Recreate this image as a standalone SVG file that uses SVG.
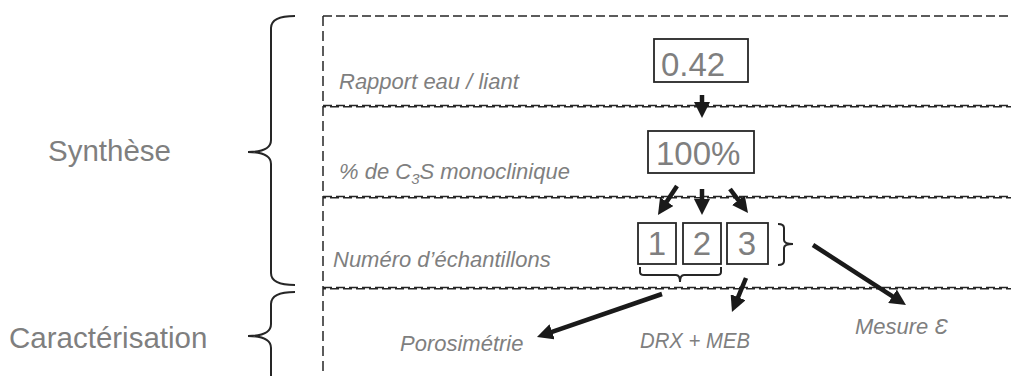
<svg xmlns="http://www.w3.org/2000/svg" width="1011" height="376" viewBox="0 0 1011 376">
<style>
.dash{fill:none;stroke:#262626;stroke-width:1.5;stroke-dasharray:9 4}
.vdash{fill:none;stroke:#262626;stroke-width:1.5;stroke-dasharray:10 5}
.brace{fill:none;stroke:#262626;stroke-width:2}
.box{fill:#fff;stroke:#262626;stroke-width:1.8}
.big{font-family:"Liberation Sans",Arial,sans-serif;font-size:29.5px;fill:#7f7f7f}
.lab{font-family:"Liberation Sans",Arial,sans-serif;font-size:22px;font-style:italic;fill:#7f7f7f}
.num{font-family:"Liberation Sans",Arial,sans-serif;font-size:33px;fill:#7f7f7f}
.arr{fill:none;stroke:#1a1a1a;stroke-width:4.5;marker-end:url(#ah)}
</style>
<defs>
<marker id="ah" markerUnits="userSpaceOnUse" markerWidth="16" markerHeight="16" refX="7" refY="8" orient="auto">
<path d="M0,0 L16,8 L0,16 z" fill="#1a1a1a"/>
</marker>
</defs>
<rect width="1011" height="376" fill="#fff"/>
<g id="frame">
<line class="dash" x1="323" y1="16" x2="1011" y2="16"/>
<line class="vdash" x1="323" y1="16" x2="323" y2="376"/>
<line class="dash" x1="323" y1="105.5" x2="1011" y2="105.5"/>
<line class="dash" x1="323" y1="106.8" x2="1011" y2="106.8" stroke-dashoffset="6" stroke-width="1"/>
<line class="dash" x1="323" y1="196.5" x2="1011" y2="196.5"/>
<line class="dash" x1="323" y1="197.8" x2="1011" y2="197.8" stroke-dashoffset="6" stroke-width="1"/>
<line class="dash" x1="323" y1="287.5" x2="1011" y2="287.5"/>
<line class="dash" x1="323" y1="288.8" x2="1011" y2="288.8" stroke-dashoffset="6" stroke-width="1"/>
</g>
<g id="synthese">
<path class="brace" d="M295,16 Q271,16 271,28 L271,140 Q271,152 248,152 Q271,152 271,164 L271,273 Q271,285 295,285"/>
<text class="big" x="48" y="161">Synthèse</text>
</g>
<g id="caracterisation">
<path class="brace" d="M295,292 Q271,292 271,304 L271,324 Q271,336 248,336 Q271,336 271,348 L271,376"/>
<text class="big" x="9" y="348">Caractérisation</text>
</g>
<g id="row-labels">
<text class="lab" x="339" y="89">Rapport eau / liant</text>
<text class="lab" x="339" y="179">% de C<tspan font-size="15" dy="5">3</tspan><tspan dy="-5">S monoclinique</tspan></text>
<text class="lab" x="333" y="267">Numéro d’échantillons</text>
</g>
<g id="ratio">
<rect class="box" x="654" y="39" width="94" height="43"/>
<text class="num" x="661" y="76" font-size="34">0.42</text>
</g>
<g id="percent">
<rect class="box" x="648" y="131" width="106" height="42"/>
<text class="num" x="656" y="165">100%</text>
</g>
<g id="sample1">
<rect class="box" x="638" y="223" width="38" height="41"/>
<text class="num" x="657" y="255" text-anchor="middle">1</text>
</g>
<g id="sample2">
<rect class="box" x="683" y="223" width="38" height="41"/>
<text class="num" x="702" y="255" text-anchor="middle">2</text>
</g>
<g id="sample3">
<rect class="box" x="727" y="223" width="41" height="41"/>
<text class="num" x="747" y="255" text-anchor="middle">3</text>
</g>
<g id="brackets">
<path class="brace" d="M778,224 Q784,224 784,228 L784,240 Q784,244 793,244 Q784,244 784,248 L784,261 Q784,265 778,265"/>
<path class="brace" d="M640,267 L640,272 Q640,275 644,275 L676,275 Q680,275 680,282 Q680,275 684,275 L717,275 Q721,275 721,272 L721,267"/>
</g>
<g id="outputs">
<text class="lab" x="400" y="351">Porosimétrie</text>
<text class="lab" x="640" y="348" textLength="110" lengthAdjust="spacingAndGlyphs">DRX + MEB</text>
<text class="lab" x="855" y="334">Mesure Ɛ</text>
</g>
<g id="connectors">
<path class="arr" d="M702,95 L702,109"/>
<path class="arr" d="M677,186 L662.9,207.5"/>
<path class="arr" d="M702,189 L702,206"/>
<path class="arr" d="M730,189 L742.6,205.8"/>
<path class="arr" d="M813,245 L898.4,300.1"/>
<path class="arr" d="M746,278 L735.4,303.7"/>
<path class="arr" d="M662,294 L545.5,334.1"/>
</g>
</svg>
